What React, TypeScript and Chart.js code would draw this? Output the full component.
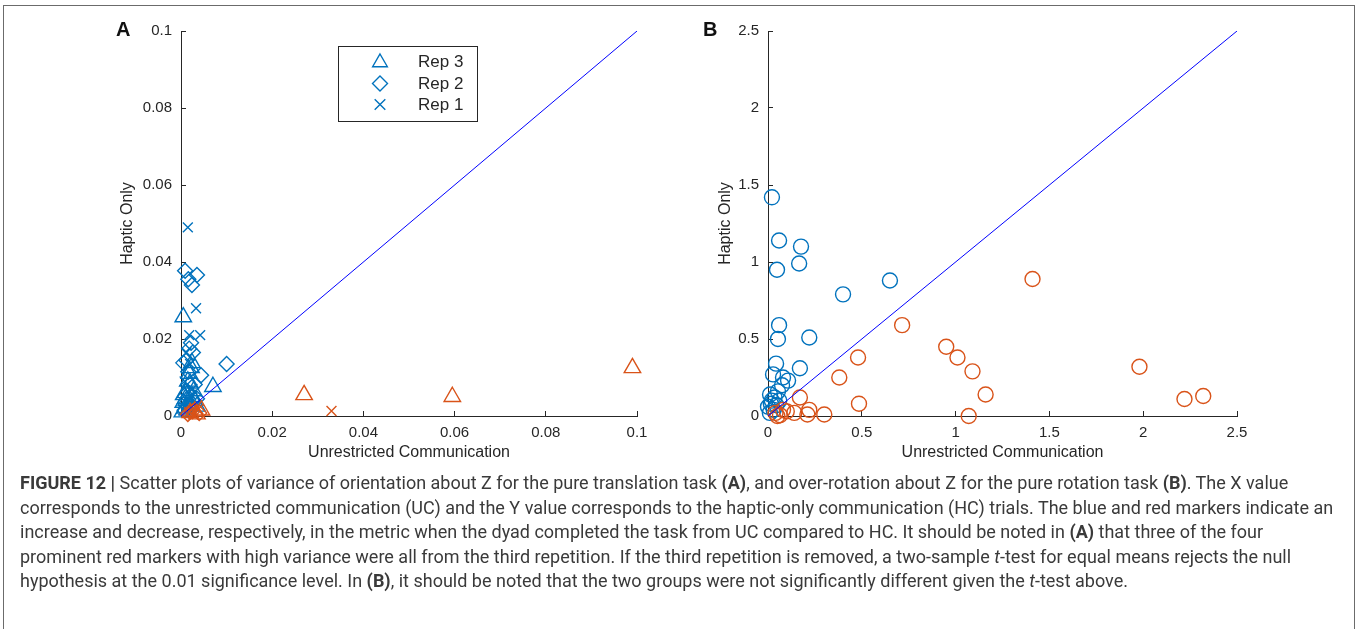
import React, { useEffect, useRef } from 'react';
import { Chart, registerables } from 'chart.js';

Chart.register(...registerables);

const BLUE = '#0072BD';
const RED = '#D95319';
const DIAG = '#0000FF';
const INK = '#262626';
const FONT = '"Liberation Sans", Arial, Helvetica, sans-serif';
const CAPTION_FONT = '"Liberation Sans Narrow", "Roboto", "Liberation Sans", sans-serif';

// ---------- Panel A: variance of orientation about Z (pure translation) ----------
const aTicks = [0, 0.02, 0.04, 0.06, 0.08, 0.1];
const aDiagonal: [number, number][] = [[0, 0], [0.1, 0.1]];

const aBlueRep3: [number, number][] = [
  [0.0005, 0.0257], [0.007, 0.0076], [0.0015, 0.009], [0.002, 0.0085], [0.001, 0.006],
  [0.0025, 0.005], [0.0012, 0.004], [0.0005, 0.0035], [0.002, 0.003], [0.003, 0.004],
  [0.0008, 0.002], [0.0015, 0.0015], [0.0003, 0.001], [0.001, 0.0045], [0.0028, 0.0065],
  [0.0018, 0.011], [0.0022, 0.0125], [0.0035, 0.0025], [0.0006, 0.0055], [0.0024, 0.0138],
];
const aBlueRep2: [number, number][] = [
  [0.0009, 0.0377], [0.0035, 0.0366], [0.0024, 0.034], [0.0016, 0.0355], [0.010, 0.0135],
  [0.0044, 0.0106], [0.0022, 0.019], [0.0018, 0.0175], [0.0026, 0.0165], [0.0012, 0.0145],
  [0.0005, 0.0138], [0.003, 0.0082], [0.0014, 0.006], [0.0022, 0.003], [0.0008, 0.0015],
  [0.0016, 0.0115], [0.0035, 0.0045],
];
const aBlueRep1: [number, number][] = [
  [0.0015, 0.049], [0.0033, 0.028], [0.0042, 0.021], [0.0018, 0.021], [0.0012, 0.0165],
  [0.002, 0.0135], [0.0008, 0.009], [0.0025, 0.007], [0.0015, 0.0045], [0.003, 0.0025],
  [0.0005, 0.0015], [0.0022, 0.0055],
];
const aRedRep3: [number, number][] = [
  [0.027, 0.0055], [0.0595, 0.005], [0.099, 0.0125], [0.003, 0.0012], [0.0035, 0.0005],
  [0.002, 0.0008], [0.0045, 0.0015],
];
const aRedRep2: [number, number][] = [[0.0015, 0.0005], [0.0025, 0.0012], [0.004, 0.0008]];
const aRedRep1: [number, number][] = [
  [0.033, 0.0013], [0.0028, 0.0003], [0.0018, 0.001], [0.0038, 0.0018],
];
const legendLabels = ['Rep 3', 'Rep 2', 'Rep 1'];
const legendStyles = ['triangle', 'rectRot', 'crossRot'];

// ---------- Panel B: over-rotation about Z (pure rotation) ----------
const bTicks = [0, 0.5, 1, 1.5, 2, 2.5];
const bDiagonal: [number, number][] = [[0, 0], [2.5, 2.5]];
const bBlue: [number, number][] = [
  [0.021, 1.42], [0.059, 1.14], [0.176, 1.1], [0.166, 0.99], [0.048, 0.95], [0.4, 0.79],
  [0.65, 0.88], [0.059, 0.59], [0.053, 0.5], [0.22, 0.51], [0.043, 0.34], [0.17, 0.31],
  [0.027, 0.27], [0.08, 0.25], [0.107, 0.23], [0.075, 0.2], [0.053, 0.16], [0.011, 0.14],
  [0.02, 0.1], [0.0, 0.06], [0.03, 0.04], [0.01, 0.02], [0.035, 0.12], [0.045, 0.07],
  [0.015, 0.08], [0.06, 0.1],
];
const bRed: [number, number][] = [
  [0.17, 0.12], [0.38, 0.25], [0.48, 0.38], [0.485, 0.08], [0.715, 0.59], [0.08, 0.04],
  [0.14, 0.02], [0.21, 0.01], [0.22, 0.04], [0.3, 0.01], [0.064, 0.005], [0.1, 0.03],
  [0.04, 0.02], [0.05, 0.0], [1.41, 0.89], [0.95, 0.45], [1.01, 0.38], [1.09, 0.29],
  [1.16, 0.14], [1.07, 0.0], [1.98, 0.32], [2.22, 0.11], [2.32, 0.13],
];

const axisTitleX = 'Unrestricted Communication';
const axisTitleY = 'Haptic Only';

const pts = (arr: [number, number][]) => arr.map(([x, y]) => ({ x, y }));
const fmt = (v: number) => String(parseFloat(Number(v).toFixed(6)));

function markerSet(data: [number, number][], style: string, color: string, radius: number) {
  return {
    data: pts(data),
    pointStyle: style,
    pointRadius: radius,
    pointHoverRadius: radius,
    pointBorderColor: color,
    pointBackgroundColor: 'rgba(0,0,0,0)',
    pointBorderWidth: 1.4,
    borderColor: color,
    backgroundColor: 'rgba(0,0,0,0)',
    showLine: false,
    clip: false as any,
  };
}

function diagSet(data: [number, number][]) {
  return {
    data: pts(data),
    showLine: true,
    borderColor: DIAG,
    borderWidth: 1,
    pointRadius: 0,
    pointHoverRadius: 0,
    fill: false,
  };
}

function axis(isX: boolean, min: number, max: number, ticks: number[], title: string, size: number) {
  return {
    type: 'linear',
    position: isX ? 'bottom' : 'left',
    min,
    max,
    afterBuildTicks: (s: any) => {
      s.ticks = ticks.map((v) => ({ value: v }));
    },
    afterFit: (s: any) => {
      if (isX) s.height = size;
      else s.width = size;
    },
    grid: { drawOnChartArea: false, drawTicks: true, tickLength: -5, color: INK, lineWidth: 1 },
    border: { display: true, color: INK, width: 1 },
    ticks: {
      color: INK,
      font: { family: FONT, size: 15 },
      padding: isX ? 13 : 14,
      maxRotation: 0,
      autoSkip: false,
      callback: (v: any) => fmt(v),
    },
    title: {
      display: true,
      text: title,
      color: INK,
      font: { family: FONT, size: 16 },
      padding: 0,
    },
  };
}

function drawMarker(ctx: CanvasRenderingContext2D, style: string, x: number, y: number, r: number) {
  ctx.beginPath();
  if (style === 'triangle') {
    for (let i = 0; i < 3; i++) {
      const a = (i * 2 * Math.PI) / 3;
      const px = x + Math.sin(a) * r;
      const py = y - Math.cos(a) * r;
      if (i === 0) ctx.moveTo(px, py);
      else ctx.lineTo(px, py);
    }
    ctx.closePath();
  } else if (style === 'rectRot') {
    ctx.moveTo(x, y - r);
    ctx.lineTo(x + r, y);
    ctx.lineTo(x, y + r);
    ctx.lineTo(x - r, y);
    ctx.closePath();
  } else {
    const d = r * Math.SQRT1_2;
    ctx.moveTo(x - d, y - d);
    ctx.lineTo(x + d, y + d);
    ctx.moveTo(x + d, y - d);
    ctx.lineTo(x - d, y + d);
  }
  ctx.stroke();
}

const legendPlugin = {
  id: 'repLegend',
  afterDraw(chart: any) {
    const ctx: CanvasRenderingContext2D = chart.ctx;
    const a = chart.chartArea;
    const x0 = Math.round(a.left + 157);
    const y0 = Math.round(a.top + 15);
    const w = 139;
    const h = 75;
    const rows = [15, 37.5, 58.5];
    ctx.save();
    ctx.fillStyle = '#ffffff';
    ctx.fillRect(x0, y0, w, h);
    ctx.strokeStyle = INK;
    ctx.lineWidth = 1;
    ctx.strokeRect(x0 + 0.5, y0 + 0.5, w, h);
    legendLabels.forEach((lab, i) => {
      const cy = y0 + rows[i];
      ctx.strokeStyle = BLUE;
      ctx.lineWidth = 1.4;
      drawMarker(ctx, legendStyles[i], x0 + 42, cy + (i === 0 ? 1.5 : 0), i === 0 ? 8.5 : 7.5);
      ctx.fillStyle = INK;
      ctx.font = `17px ${FONT}`;
      ctx.textBaseline = 'middle';
      ctx.textAlign = 'left';
      ctx.fillText(lab, x0 + 80, cy + 1);
    });
    ctx.restore();
  },
};

function baseOptions(xAxis: any, yAxis: any, padding: any) {
  return {
    responsive: false,
    animation: false,
    events: [],
    layout: { padding },
    plugins: { legend: { display: false }, tooltip: { enabled: false } },
    scales: { x: xAxis, y: yAxis },
  };
}

function PanelA() {
  const ref = useRef<HTMLCanvasElement>(null);
  useEffect(() => {
    const chart = new Chart(ref.current!, {
      type: 'scatter',
      data: {
        datasets: [
          diagSet(aDiagonal),
          markerSet(aRedRep1, 'crossRot', RED, 7),
          markerSet(aRedRep2, 'rectRot', RED, 7.5),
          markerSet(aRedRep3, 'triangle', RED, 9.5),
          markerSet(aBlueRep1, 'crossRot', BLUE, 7),
          markerSet(aBlueRep2, 'rectRot', BLUE, 7.5),
          markerSet(aBlueRep3, 'triangle', BLUE, 9.5),
        ] as any,
      },
      options: baseOptions(
        axis(true, 0, 0.1, aTicks, axisTitleX, 46),
        axis(false, 0, 0.1, aTicks, axisTitleY, 63),
        { left: 118, right: 43, top: 31, bottom: 13 }
      ) as any,
      plugins: [legendPlugin],
    });
    return () => chart.destroy();
  }, []);
  return (
    <canvas ref={ref} width={680} height={475} style={{ position: 'absolute', left: 0, top: 0 }} />
  );
}

function PanelB() {
  const ref = useRef<HTMLCanvasElement>(null);
  useEffect(() => {
    const chart = new Chart(ref.current!, {
      type: 'scatter',
      data: {
        datasets: [
          diagSet(bDiagonal),
          markerSet(bRed, 'circle', RED, 7.5),
          markerSet(bBlue, 'circle', BLUE, 7.5),
        ] as any,
      },
      options: baseOptions(
        axis(true, 0, 2.5, bTicks, axisTitleX, 46),
        axis(false, 0, 2.5, bTicks, axisTitleY, 52),
        { left: 36, right: 123, top: 31, bottom: 13 }
      ) as any,
    });
    return () => chart.destroy();
  }, []);
  return (
    <canvas ref={ref} width={680} height={475} style={{ position: 'absolute', left: 680, top: 0 }} />
  );
}

const captionLines: React.ReactNode[] = [
  <>
    <b>FIGURE 12 |</b> Scatter plots of variance of orientation about Z for the pure translation task <b>(A)</b>, and
    over-rotation about Z for the pure rotation task <b>(B)</b>. The X value
  </>,
  <>
    corresponds to the unrestricted communication (UC) and the Y value corresponds to the haptic-only communication (HC)
    trials. The blue and red markers indicate an
  </>,
  <>
    increase and decrease, respectively, in the metric when the dyad completed the task from UC compared to HC. It should be
    noted in <b>(A)</b> that three of the four
  </>,
  <>
    prominent red markers with high variance were all from the third repetition. If the third repetition is removed, a
    two-sample <i>t</i>-test for equal means rejects the null
  </>,
  <>
    hypothesis at the 0.01 significance level. In <b>(B)</b>, it should be noted that the two groups were not significantly
    different given the <i>t</i>-test above.
  </>,
];

export default function App() {
  return (
    <div
      style={{
        position: 'absolute',
        left: 0,
        top: 0,
        width: 1360,
        height: 629,
        overflow: 'hidden',
        background: '#ffffff',
      }}
    >
      <div
        style={{
          position: 'absolute',
          left: 3,
          top: 5,
          width: 1352,
          height: 660,
          border: '1.5px solid #6b6b6b',
          boxSizing: 'border-box',
        }}
      />
      <PanelA />
      <PanelB />
      <div style={{ position: 'absolute', left: 116, top: 18, font: `bold 20px ${FONT}`, color: '#111' }}>A</div>
      <div style={{ position: 'absolute', left: 703, top: 18, font: `bold 20px ${FONT}`, color: '#111' }}>B</div>
      <div
        style={{
          position: 'absolute',
          left: 20,
          top: 471,
          font: `18px ${CAPTION_FONT}`,
          color: '#3a3a3a',
        }}
      >
        {captionLines.map((line, i) => (
          <div key={i} style={{ whiteSpace: 'nowrap', height: 24.5, lineHeight: '24.5px' }}>
            {line}
          </div>
        ))}
      </div>
    </div>
  );
}
